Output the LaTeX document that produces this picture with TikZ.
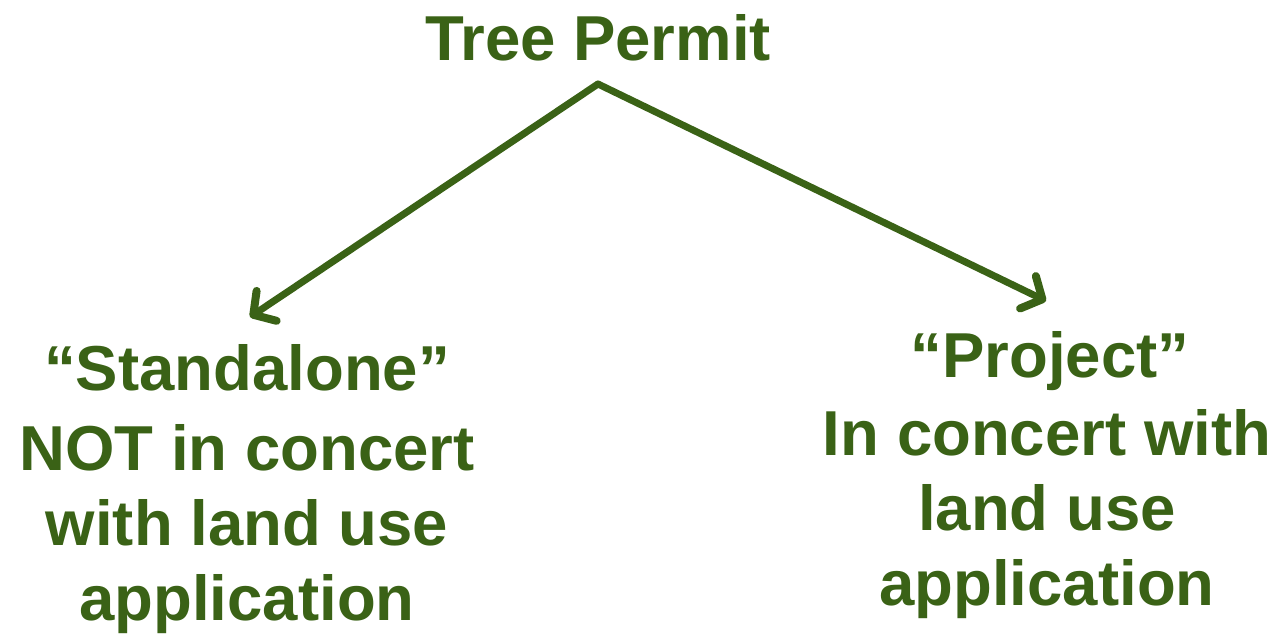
\documentclass[tikz,border=0pt]{standalone}
\usepackage{fontspec}
\setmainfont{Liberation Sans}
\usetikzlibrary{arrows.meta}
\definecolor{leaf}{RGB}{58,98,22}
\tikzset{
  lbl/.style={text=leaf, font=\fontsize{63.5}{76}\selectfont\bfseries, anchor=base, inner sep=0pt},
  link/.style={draw=leaf, line width=7pt, line cap=round, line join=round,
    -{Straight Barb[length=16pt, width=36pt, line width=8pt, round]}}
}
\begin{document}
\begin{tikzpicture}[x=1pt,y=-1pt]
\useasboundingbox (0,0) rectangle (1288,634);
\node[lbl] (title) at (598,60) {Tree Permit};
\coordinate (apex) at (598,84);
\node[lbl] (l1) at (247,390) {“Standalone”};
\node[lbl] (l2) at (247,470) {NOT in concert};
\node[lbl] (l3) at (247,545) {with land use};
\node[lbl] (l4) at (247,620) {application};
\node[lbl] (r1) at (1050,377) {“Project”};
\node[lbl] (r2) at (1047,455) {In concert with};
\node[lbl] (r3) at (1047,530) {land use};
\node[lbl] (r4) at (1047,605) {application};
\coordinate (lend) at (250,317);
\coordinate (rend) at (1046,301);
\draw[link] (apex) -- (lend);
\draw[link] (apex) -- (rend);
\end{tikzpicture}
\end{document}
